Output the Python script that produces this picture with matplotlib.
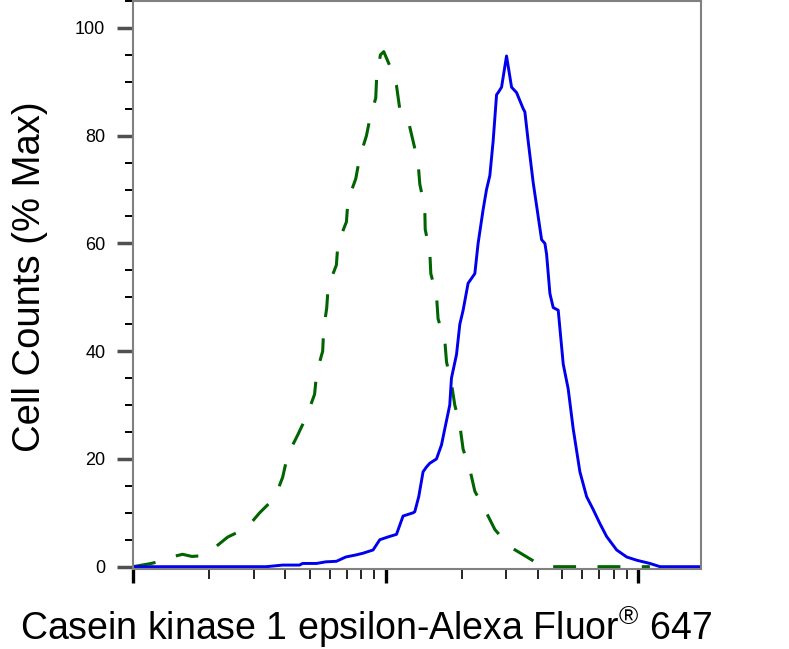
import matplotlib
matplotlib.use("Agg")
import matplotlib.pyplot as plt
from matplotlib.ticker import LogLocator, NullFormatter, MultipleLocator

plt.rcParams['font.family'] = ['Liberation Sans', 'DejaVu Sans']
plt.rcParams['mathtext.fontset'] = 'custom'
plt.rcParams['mathtext.rm'] = 'Liberation Sans'
plt.rcParams['mathtext.it'] = 'Liberation Sans'

# isotype control (dashed green)
ctrl_x = [10.0, 11.8, 13.3, 14.5, 15.7, 17.1, 18.3, 20.5, 23.7, 28.2, 31.7, 36.4,
          39.1, 40.9, 44.8, 48.7, 52.3, 53.3, 56.3, 56.8, 58.4, 59.2, 63.8, 64.7,
          69.9, 70.9, 76.1, 78.9, 83.9, 86.4, 91.3, 92.1, 95.3, 98.2, 103.7, 110.3,
          113.6, 117.8, 122.5, 128.3, 134.3, 136.4, 142.7, 143.3, 149.4, 150.8,
          158.8, 161.1, 171.3, 174.0, 182.0, 187.6, 196.4, 202.4, 215.1, 225.2,
          246.7, 270.3, 309.8, 361.8, 418.7, 521.2, 625.2, 792.5, 951.0, 1110.0]
ctrl_y = [0.0, 0.6, 1.2, 1.9, 2.3, 1.9, 2.0, 3.1, 5.5, 7.2, 10.0, 12.8,
          16.6, 20.7, 24.4, 28.0, 32.0, 36.0, 40.0, 44.0, 48.0, 52.0, 56.0, 60.0,
          64.0, 68.0, 72.0, 76.0, 80.0, 83.0, 87.0, 91.0, 95.0, 95.6, 93.0, 89.3,
          85.0, 84.0, 83.0, 79.0, 75.0, 71.0, 66.7, 62.6, 58.5, 54.4,
          50.4, 46.0, 42.0, 38.0, 34.0, 30.0, 26.3, 21.8, 18.1, 14.0,
          10.6, 6.9, 3.7, 1.8, 0.0, 0.0, 0.0, 0.0, 0.0, 0.0]

# Casein kinase 1 epsilon stained (solid blue)
ck1e_x = [10.0, 33.7, 39.1, 45.6, 46.9, 53.2, 57.9, 63.8, 69.5, 76.6, 81.3, 89.1,
          94.7, 101.8, 110.3, 117.1, 128.3, 130.3, 135.1, 140.5, 144.9, 149.4,
          158.8, 166.2, 171.3, 179.2, 182.0, 190.6, 196.4, 202.4, 211.8, 225.2,
          232.0, 242.9, 250.5, 258.2, 266.1, 274.5, 278.5, 287.3, 300.6, 314.7,
          329.4, 349.9, 355.3, 366.1, 383.2, 401.1, 413.7, 426.4, 433.0, 446.3,
          459.9, 481.4, 503.9, 527.2, 551.8, 586.6, 623.6, 662.2, 703.9, 748.3,
          820.0, 898.3, 983.8, 1110.0, 1217.0, 1768.0]
ck1e_y = [0.0, 0.0, 0.3, 0.3, 0.6, 0.6, 0.9, 1.0, 1.8, 2.2, 2.5, 3.1,
          5.0, 5.5, 6.0, 9.4, 10.0, 10.2, 13.0, 17.6, 18.5, 19.2,
          20.0, 22.6, 25.6, 30.0, 35.0, 39.4, 45.0, 47.6, 52.6, 54.4,
          60.0, 66.3, 70.0, 72.6, 79.0, 87.6, 88.0, 89.0, 94.8, 89.0,
          88.0, 85.0, 84.4, 79.0, 71.3, 65.0, 60.7, 60.0, 58.0, 50.7,
          48.1, 47.6, 37.6, 33.0, 25.6, 17.6, 13.0, 10.6, 8.0, 5.6,
          3.1, 1.8, 1.2, 0.6, 0.0, 0.0]

yticks = [0, 20, 40, 60, 80, 100]

fig = plt.figure(figsize=(7.89, 6.49), dpi=100)
ax = fig.add_axes([133 / 789, 1 - 569 / 649, 568 / 789, 568 / 649])

ax.plot(ctrl_x, ctrl_y, color='#006400', lw=2.2, linestyle=(0, (7.5, 7)))
ax.plot(ck1e_x, ck1e_y, color='#0000ee', lw=2.1)

ax.set_xscale('log')
ax.set_xlim(10, 1768)
ax.set_ylim(-0.43, 105)

ax.xaxis.set_major_locator(LogLocator(base=10))
ax.xaxis.set_minor_locator(LogLocator(base=10, subs=range(2, 10)))
ax.xaxis.set_major_formatter(NullFormatter())
ax.xaxis.set_minor_formatter(NullFormatter())
ax.tick_params(axis='x', which='major', direction='out', length=10, width=2.4, color='black')
ax.tick_params(axis='x', which='minor', direction='out', length=7, width=1.2, color='black')

ax.set_yticks(yticks)
ax.yaxis.set_minor_locator(MultipleLocator(5))
ax.tick_params(axis='y', which='major', direction='out', length=11.5, width=2.5,
               color='#505050', labelsize=13, pad=8.4)
ax.tick_params(axis='y', which='minor', direction='out', length=5.8, width=1.4, color='black')

for s in ax.spines.values():
    s.set_color('#808080')
    s.set_linewidth(1.5)

fig.text(366 / 789, 1 - 640.5 / 649, 'Casein kinase 1 epsilon-Alexa Fluor$^{\\mathrm{®}}$ 647',
         fontsize=27, ha='center', va='baseline')
fig.text(30 / 789, 1 - 276.5 / 649, 'Cell Counts (% Max)', fontsize=27.5,
         rotation=90, ha='center', va='center')

fig.savefig('out.png', dpi=100)
